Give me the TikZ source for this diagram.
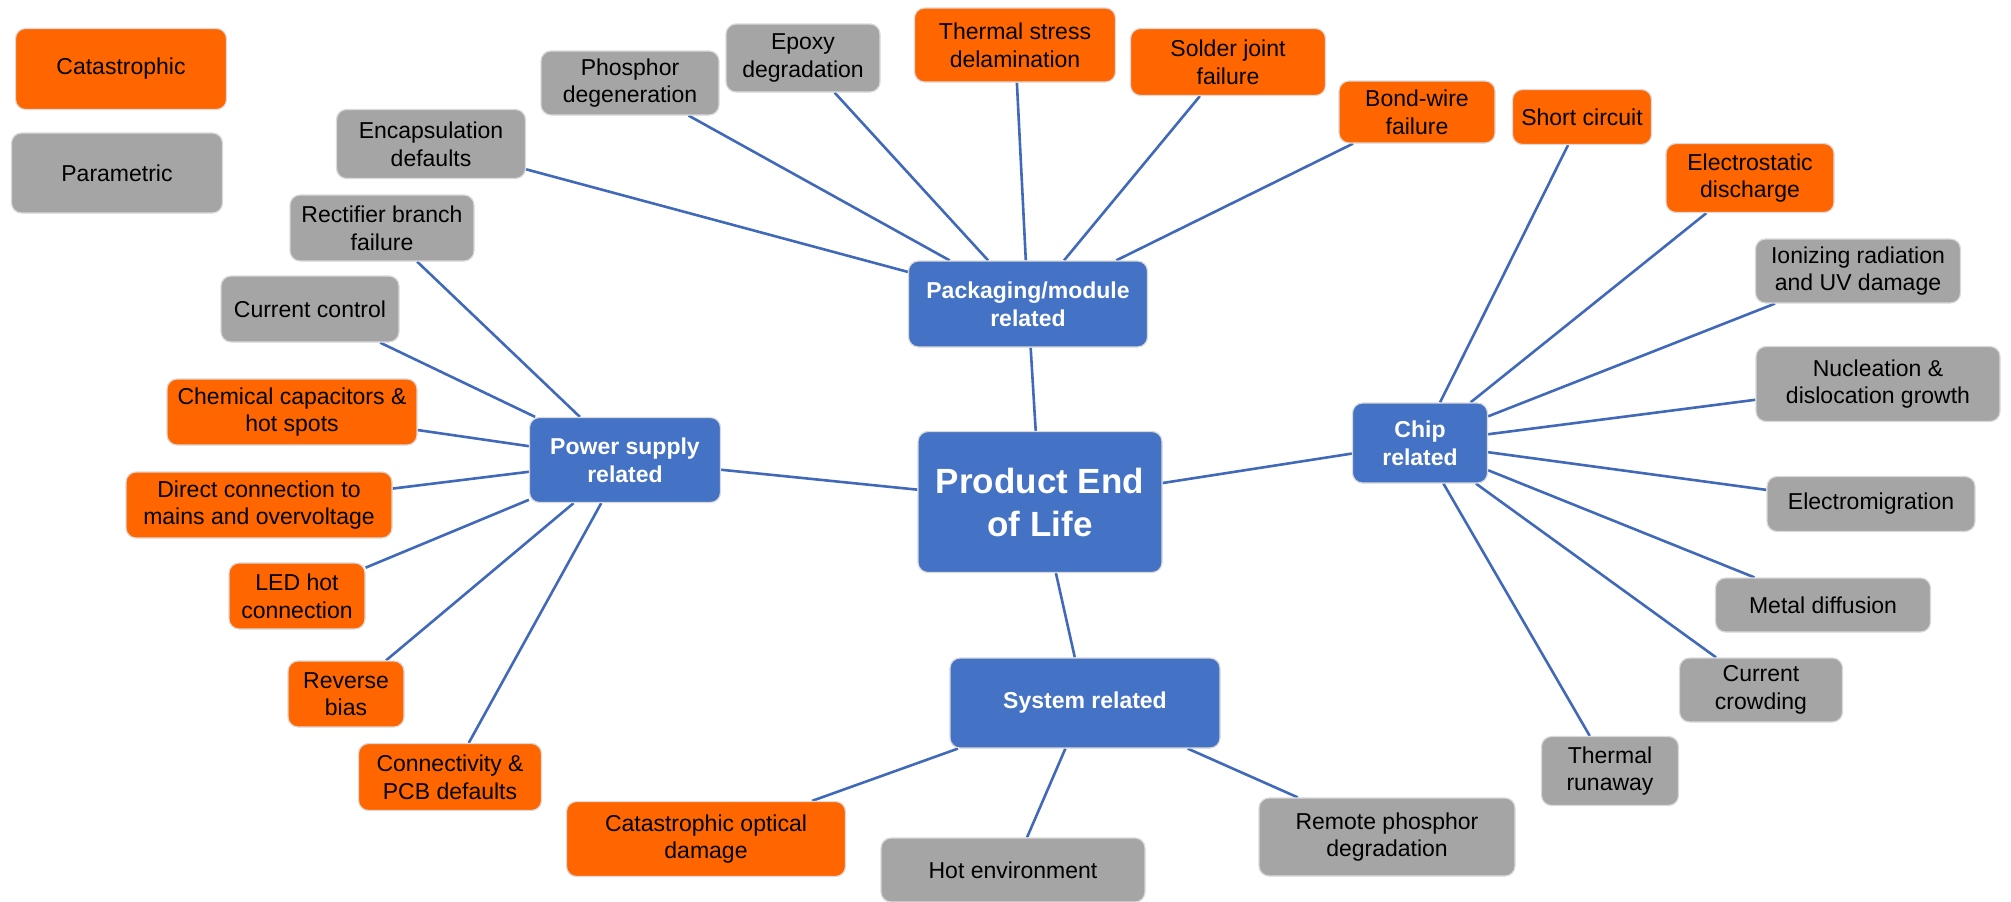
\documentclass[tikz,border=0pt]{standalone}
\usepackage{fontspec}
\setmainfont{Liberation Sans}
\usetikzlibrary{backgrounds}
\definecolor{orng}{RGB}{255,102,0}
\definecolor{greybox}{RGB}{165,165,165}
\definecolor{hubblue}{RGB}{68,114,196}
\definecolor{edgeblue}{RGB}{65,105,185}
\definecolor{rim}{RGB}{218,218,218}
\tikzset{
  box/.style={rounded corners=10pt, draw=rim, line width=1.2pt, align=center, inner sep=2pt, font=\fontsize{23}{27.6}\selectfont},
  catbox/.style={box, fill=orng},
  parbox/.style={box, fill=greybox},
  hubbox/.style={box, fill=hubblue, text=white, font=\fontsize{23}{27.6}\selectfont\bfseries},
  sz/.style 2 args={minimum width=#1pt, minimum height=#2pt},
  link/.style={draw=edgeblue, line width=2.6pt}
}
\begin{document}
\begin{tikzpicture}[x=1pt,y=-1pt]
\useasboundingbox (0,0) rectangle (2011,902);
% legend
\node[catbox, sz={211}{81}] (legcat) at (121,69) {Catastrophic};
\node[parbox, sz={211}{80}] (legpar) at (117,173) {Parametric};
% centre
\node[hubbox, sz={244}{141}, font=\fontsize{35}{43}\selectfont\bfseries] (prod) at (1040,502) {Product End\\of Life};
% packaging
\node[hubbox, sz={239}{86}] (pkg) at (1028,304) {Packaging/module\\related};
\node[parbox, sz={178}{64}] (phos) at (630,83) {Phosphor\\degeneration};
\node[parbox, sz={154}{68}] (epoxy) at (803,58) {Epoxy\\degradation};
\node[catbox, sz={201}{74}] (therm) at (1015,45) {Thermal stress\\delamination};
\node[catbox, sz={195}{67}] (solder) at (1228,62) {Solder joint\\failure};
\node[catbox, sz={156}{62}] (bond) at (1417,112) {Bond-wire\\failure};
\node[parbox, sz={189}{69}] (encap) at (431,144) {Encapsulation\\defaults};
% power supply
\node[hubbox, sz={191}{85}] (pwr) at (625,460) {Power supply\\related};
\node[parbox, sz={184}{66}] (rect) at (382,228) {Rectifier branch\\failure};
\node[parbox, sz={178}{66}] (curr) at (310,309) {Current control};
\node[catbox, sz={250}{66}] (chem) at (292,412) {Chemical capacitors \&\\hot spots};
\node[catbox, sz={266}{66}] (direct) at (259,505) {Direct connection to\\mains and overvoltage};
\node[catbox, sz={136}{66}] (ledhot) at (297,596) {LED hot\\connection};
\node[catbox, sz={116}{66}] (rev) at (346,694) {Reverse\\bias};
\node[catbox, sz={183}{67}] (conn) at (450,777) {Connectivity \&\\PCB defaults};
% system
\node[hubbox, sz={270}{90}] (sys) at (1085,703) {System related};
\node[catbox, sz={279}{75}] (cod) at (706,839) {Catastrophic optical\\damage};
\node[parbox, sz={264}{64}] (hot) at (1013,870) {Hot environment};
\node[parbox, sz={256}{78}] (remote) at (1387,837) {Remote phosphor\\degradation};
% chip
\node[hubbox, sz={135}{80}] (chip) at (1420,443) {Chip\\related};
\node[catbox, sz={139}{55}] (short) at (1582,117) {Short circuit};
\node[catbox, sz={168}{69}] (esd) at (1750,178) {Electrostatic\\discharge};
\node[parbox, sz={205}{64}] (ion) at (1858,271) {Ionizing radiation\\and UV damage};
\node[parbox, sz={244}{75}] (nuc) at (1878,384) {Nucleation \&\\dislocation growth};
\node[parbox, sz={208}{55}] (emig) at (1871,504) {Electromigration};
\node[parbox, sz={215}{54}] (metal) at (1823,605) {Metal diffusion};
\node[parbox, sz={163}{64}] (ccrowd) at (1761,690) {Current\\crowding};
\node[parbox, sz={137}{69}] (trun) at (1610,771) {Thermal\\runaway};
\begin{pgfonlayer}{background}
\fill[white] (0,0) rectangle (2011,902);
\foreach \h in {pkg,pwr,sys,chip} \draw[link] (\h) -- (prod);
\foreach \l in {phos,epoxy,therm,solder,bond,encap} \draw[link] (pkg) -- (\l);
\foreach \l in {rect,curr,chem,direct,ledhot,rev,conn} \draw[link] (pwr) -- (\l);
\foreach \l in {cod,hot,remote} \draw[link] (sys) -- (\l);
\foreach \l in {short,esd,ion,nuc,emig,metal,ccrowd,trun} \draw[link] (chip) -- (\l);
\end{pgfonlayer}
\end{tikzpicture}
\end{document}
